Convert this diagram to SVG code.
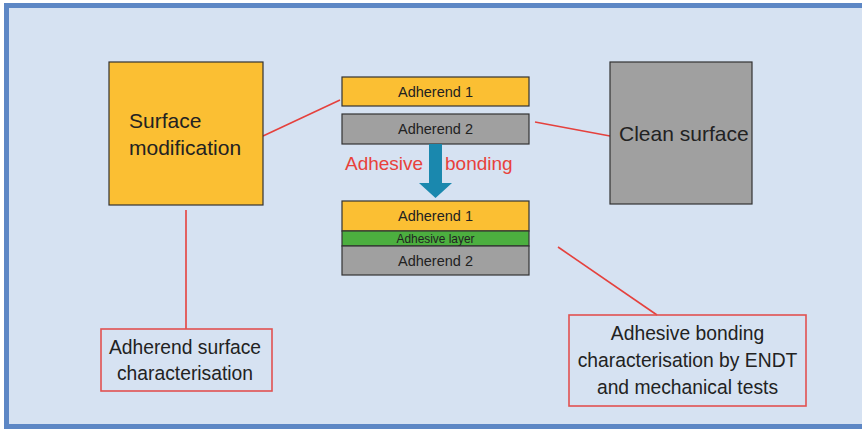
<svg xmlns="http://www.w3.org/2000/svg" width="862" height="431" viewBox="0 0 862 431">
  <style>
    .box { stroke: #333333; stroke-width: 1.2; }
    .yellow { fill: #fbbf33; }
    .grey { fill: #a0a0a0; }
    .green { fill: #4caf3f; }
    .note { fill: none; stroke: #e25250; stroke-width: 1.6; }
    .link { stroke: #e5413d; stroke-width: 1.6; fill: none; }
    text { font-family: "Liberation Sans", Arial, sans-serif; fill: #222222; }
    .layer { font-size: 14.5px; text-anchor: middle; }
    .big { font-size: 21px; }
    .lbl { font-size: 19.3px; text-anchor: middle; }
    .red { fill: #e8413b; font-size: 19px; }
  </style>

  <!-- frame -->
  <rect x="0" y="0" width="862" height="431" fill="#ffffff"/>
  <rect x="6.5" y="5.5" width="870" height="421" fill="#d6e2f2" stroke="#5d87c5" stroke-width="5"/>

  <!-- connectors -->
  <g id="connectors">
    <line class="link" x1="263" y1="136" x2="340" y2="100"/>
    <line class="link" x1="535" y1="122" x2="610" y2="136"/>
    <line class="link" x1="186" y1="210" x2="186" y2="329"/>
    <line class="link" x1="558" y1="247" x2="657" y2="315"/>
  </g>

  <g id="surface-modification">
    <rect class="box yellow" x="109" y="62" width="154" height="143"/>
    <text class="big" x="129" y="128">Surface</text>
    <text class="big" x="129" y="155">modification</text>
  </g>

  <g id="clean-surface">
    <rect class="box grey" x="610" y="62" width="142" height="142"/>
    <text class="big" x="619" y="141">Clean surface</text>
  </g>

  <g id="adherends-separate">
    <rect class="box yellow" x="342" y="77" width="187" height="29"/>
    <text class="layer" x="435.5" y="96.5">Adherend 1</text>
    <rect class="box grey" x="342" y="114" width="187" height="30"/>
    <text class="layer" x="435.5" y="134">Adherend 2</text>
  </g>

  <g id="bonding-arrow">
    <polygon fill="#1a88ae" points="429,144 442,144 442,183 452,183 435.5,198 419,183 429,183"/>
    <text class="red" x="345" y="170">Adhesive</text>
    <text class="red" x="445" y="170">bonding</text>
  </g>

  <g id="bonded-joint">
    <rect class="box yellow" x="342" y="201" width="187" height="30"/>
    <text class="layer" x="435.5" y="221">Adherend 1</text>
    <rect class="box green" x="342" y="231" width="187" height="15"/>
    <text x="435.5" y="242.5" font-size="11.9" text-anchor="middle">Adhesive layer</text>
    <rect class="box grey" x="342" y="246" width="187" height="29"/>
    <text class="layer" x="435.5" y="266">Adherend 2</text>
  </g>

  <g id="surface-characterisation">
    <rect class="note" x="101" y="329" width="171" height="62"/>
    <text class="lbl" x="185" y="354">Adherend surface</text>
    <text class="lbl" x="185" y="380">characterisation</text>
  </g>

  <g id="bonding-characterisation">
    <rect class="note" x="569" y="315" width="237" height="91"/>
    <text class="lbl" x="687.5" y="340">Adhesive bonding</text>
    <text class="lbl" x="687.5" y="367">characterisation by ENDT</text>
    <text class="lbl" x="687.5" y="394">and mechanical tests</text>
  </g>
</svg>
